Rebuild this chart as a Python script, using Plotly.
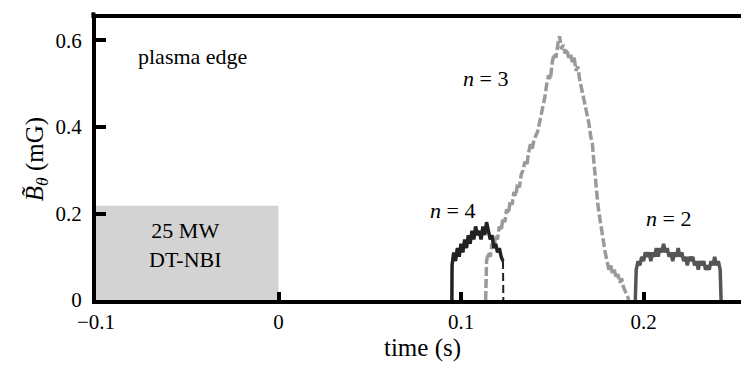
import plotly.graph_objects as go

# ---- data ----
n4_t = [0.095, 0.0951, 0.096, 0.097, 0.098, 0.099, 0.100, 0.101, 0.102, 0.103, 0.104, 0.105,
        0.106, 0.107, 0.108, 0.109, 0.110, 0.111, 0.112, 0.113, 0.114, 0.115, 0.116, 0.117,
        0.118, 0.119, 0.120, 0.121, 0.122, 0.123]
n4_v = [0.0, 0.08, 0.11, 0.09, 0.12, 0.10, 0.13, 0.11, 0.14, 0.12, 0.15, 0.13,
        0.16, 0.14, 0.17, 0.15, 0.16, 0.14, 0.17, 0.15, 0.18, 0.16, 0.14, 0.15,
        0.12, 0.13, 0.11, 0.12, 0.10, 0.09]
n4_drop_t = [0.123, 0.1232]
n4_drop_v = [0.09, 0.0]

n3_t = [0.1135, 0.114, 0.115, 0.116, 0.117, 0.118, 0.119, 0.120, 0.121, 0.122, 0.123, 0.124,
        0.125, 0.126, 0.127, 0.128, 0.129, 0.130, 0.131, 0.132, 0.133, 0.134, 0.135, 0.136,
        0.137, 0.138, 0.139, 0.140, 0.141, 0.142, 0.143, 0.144, 0.145, 0.146, 0.147, 0.148,
        0.149, 0.150, 0.151, 0.152, 0.153, 0.154, 0.155, 0.156, 0.157, 0.158, 0.159, 0.160,
        0.161, 0.162, 0.163, 0.164, 0.165, 0.166, 0.167, 0.168, 0.169, 0.170, 0.171, 0.172,
        0.173, 0.174, 0.175, 0.176, 0.177, 0.178, 0.179, 0.180, 0.181, 0.182, 0.183, 0.184,
        0.185, 0.186, 0.187, 0.188, 0.189, 0.190, 0.191, 0.192]
n3_v = [0.0, 0.09, 0.11, 0.10, 0.13, 0.12, 0.15, 0.14, 0.17, 0.16, 0.19, 0.18,
        0.21, 0.20, 0.23, 0.22, 0.25, 0.24, 0.27, 0.26, 0.29, 0.30, 0.32, 0.31,
        0.34, 0.36, 0.35, 0.37, 0.38, 0.39, 0.41, 0.43, 0.45, 0.47, 0.50, 0.52,
        0.51, 0.55, 0.57, 0.56, 0.59, 0.61, 0.58, 0.59, 0.57, 0.58, 0.56, 0.57,
        0.55, 0.56, 0.53, 0.54, 0.51, 0.49, 0.47, 0.45, 0.43, 0.41, 0.38, 0.36,
        0.31, 0.26, 0.22, 0.19, 0.16, 0.13, 0.11, 0.09, 0.07, 0.08, 0.06, 0.07,
        0.05, 0.06, 0.04, 0.05, 0.03, 0.02, 0.01, 0.0]

n2_t = [0.1955, 0.196, 0.197, 0.198, 0.199, 0.200, 0.201, 0.202, 0.203, 0.204, 0.205, 0.206,
        0.207, 0.208, 0.209, 0.210, 0.211, 0.212, 0.213, 0.214, 0.215, 0.216, 0.217, 0.218,
        0.219, 0.220, 0.221, 0.222, 0.223, 0.224, 0.225, 0.226, 0.227, 0.228, 0.229, 0.230,
        0.231, 0.232, 0.233, 0.234, 0.235, 0.236, 0.237, 0.238, 0.239, 0.240, 0.241, 0.242, 0.2425]
n2_v = [0.0, 0.07, 0.09, 0.08, 0.10, 0.09, 0.11, 0.10, 0.11, 0.09, 0.11, 0.10,
        0.12, 0.10, 0.12, 0.11, 0.13, 0.11, 0.12, 0.10, 0.11, 0.09, 0.11, 0.10,
        0.12, 0.10, 0.11, 0.09, 0.10, 0.08, 0.10, 0.09, 0.10, 0.08, 0.09, 0.07,
        0.09, 0.08, 0.09, 0.07, 0.08, 0.07, 0.09, 0.08, 0.10, 0.08, 0.09, 0.07, 0.0]

x_ticks = [-0.1, 0, 0.1, 0.2]
x_tick_labels = ["\u22120.1", "0", "0.1", "0.2"]
y_ticks = [0, 0.2, 0.4, 0.6]
y_tick_labels = ["0", "0.2", "0.4", "0.6"]

nbi_start, nbi_end, nbi_level = -0.1, 0.0, 0.218

FONT = "'Liberation Serif', 'Times New Roman', Times, serif"

fig = go.Figure()
fig.add_shape(type="rect", x0=nbi_start - 0.002, x1=nbi_end, y0=-0.01, y1=nbi_level,
              fillcolor="#d3d3d3", line_width=0, layer="below")
# small stub at the top of the left axis
fig.add_shape(type="line", xref="paper", yref="paper", x0=-0.004, x1=-0.004, y0=1.0, y1=1.02,
              line=dict(color="black", width=4))

fig.add_trace(go.Scatter(x=n3_t, y=n3_v, mode="lines",
                         line=dict(color="#9a9a9a", width=3.5, dash="9px,3px"), showlegend=False))
fig.add_trace(go.Scatter(x=n4_t, y=n4_v, mode="lines",
                         line=dict(color="#222222", width=3.5), showlegend=False))
fig.add_trace(go.Scatter(x=n4_drop_t, y=n4_drop_v, mode="lines",
                         line=dict(color="#222222", width=2, dash="8px,4px"), showlegend=False))
fig.add_trace(go.Scatter(x=n2_t, y=n2_v, mode="lines",
                         line=dict(color="#555555", width=3.5), showlegend=False))

ann = dict(showarrow=False, font=dict(family=FONT, size=22, color="black"))
fig.add_annotation(x=-0.0508, y=0.127, text="25 MW<br>DT-NBI", **ann)
fig.add_annotation(x=-0.047, y=0.562, text="plasma edge", **ann)
fig.add_annotation(x=0.1134, y=0.511, text="<i>n</i> = 3", **ann)
fig.add_annotation(x=0.0953, y=0.207, text="<i>n</i> = 4", **ann)
fig.add_annotation(x=0.2135, y=0.189, text="<i>n</i> = 2", **ann)

fig.update_layout(
    width=741, height=358,
    margin=dict(l=88, r=0, t=10, b=66),
    paper_bgcolor="white", plot_bgcolor="white",
    font=dict(family=FONT, size=21, color="black"),
    xaxis=dict(range=[-0.1, 0.2578], tickvals=x_ticks, ticktext=x_tick_labels,
               showgrid=False, zeroline=False, showline=True, linecolor="black",
               linewidth=4, mirror=True, ticks="inside", ticklen=8, tickwidth=4,
               tickcolor="black", title=dict(text="time (s)", standoff=2)),
    yaxis=dict(range=[0, 0.652], tickvals=y_ticks, ticktext=y_tick_labels,
               showgrid=False, zeroline=False, showline=True, linecolor="black",
               linewidth=4, ticks="inside", ticklen=10, tickwidth=4, tickcolor="black",
               ticklabelstandoff=6,
               title=dict(text="<i>B\u0303</i><sub><i>\u03b8</i></sub> (mG)", standoff=6)),
)

fig.write_html("out.html")
